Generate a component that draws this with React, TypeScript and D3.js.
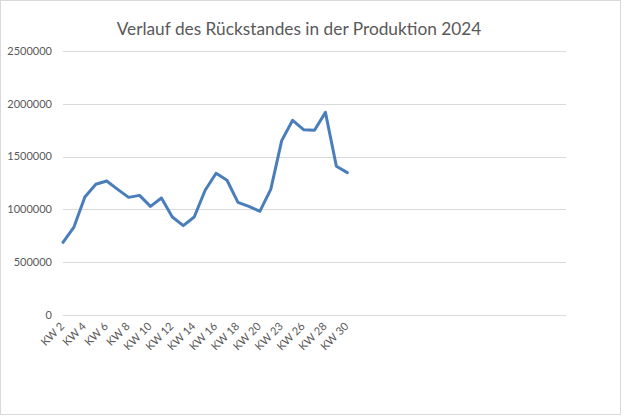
import React from "react";
import * as d3 from "d3";

const categories: string[] = [
  "KW 2", "KW 3", "KW 4", "KW 5", "KW 6", "KW 7", "KW 8", "KW 9", "KW 10", "KW 11",
  "KW 12", "KW 13", "KW 14", "KW 15", "KW 16", "KW 17", "KW 18", "KW 19", "KW 20", "KW 22",
  "KW 23", "KW 25", "KW 26", "KW 27", "KW 28", "KW 29", "KW 30",
];
const values: number[] = [
  688000, 833000, 1117000, 1238000, 1269000, 1190000, 1114000, 1133000, 1029000, 1108000,
  928000, 846000, 928000, 1181000, 1342000, 1276000, 1067000, 1029000, 982000, 1190000,
  1651000, 1844000, 1755000, 1749000, 1919000, 1408000, 1348000,
];
const yTicks: number[] = [0, 500000, 1000000, 1500000, 2000000, 2500000];
const emptySlots = 20;
const title = "Verlauf des Rückstandes in der Produktion 2024";

export default function App() {
  const W = 626, H = 416;
  const left = 63, right = 566, top = 51, bottom = 315;
  const domain = [...categories, ...d3.range(emptySlots).map((i) => `__empty${i}`)];
  const x = d3.scalePoint<string>().domain(domain).range([left, right]);
  const y = d3.scaleLinear().domain([0, 2500000]).range([bottom, top]);
  const line = d3.line<number>().x((_, i) => x(categories[i])!).y((d) => y(d));
  const font = "Lato, 'Open Sans', sans-serif";
  return (
    <svg width={W} height={H} style={{ position: "absolute", left: 0, top: 0, background: "#fff" }}>
      <rect x={0.5} y={0.5} width={620} height={414} fill="#fff" stroke="#d9d9d9" />
      <text x={299} y={35} textAnchor="middle" fontFamily={font} fontSize={17.3} fill="#595959">
        {title}
      </text>
      {yTicks.map((t) => (
        <g key={t}>
          <line x1={left} x2={right} y1={Math.round(y(t)) + 0.5} y2={Math.round(y(t)) + 0.5} stroke="#d9d9d9" />
          <text x={52} y={y(t)} dy="0.35em" textAnchor="end" fontFamily={font} fontSize={11} fill="#595959">
            {t}
          </text>
        </g>
      ))}
      {categories.map((c, i) =>
        i % 2 === 0 ? (
          <text
            key={c}
            transform={`translate(${x(c)! + 2},${327}) rotate(-45)`}
            textAnchor="end"
            fontFamily={font}
            fontSize={11}
            fill="#595959"
          >
            {c}
          </text>
        ) : null
      )}
      <path d={line(values) || ""} fill="none" stroke="#4a7ebb" strokeWidth={3} strokeLinejoin="round" strokeLinecap="round" />
    </svg>
  );
}
